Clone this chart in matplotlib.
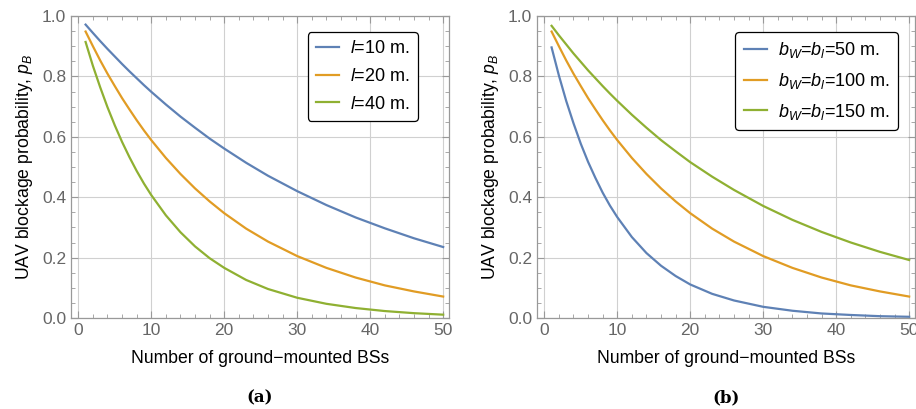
import matplotlib.pyplot as plt
from matplotlib.ticker import MultipleLocator

plt.rcParams['font.family'] = ['Liberation Sans', 'DejaVu Sans']
plt.rcParams['mathtext.fontset'] = 'custom'
plt.rcParams['mathtext.it'] = 'Liberation Sans:italic'
plt.rcParams['mathtext.rm'] = 'Liberation Sans'

# number of ground-mounted BSs (sample points)
n = [1, 2, 3, 4, 5, 6, 7, 8, 9, 10, 12, 14, 16, 18, 20, 23, 26, 30, 34, 38, 42, 46, 50]

# panel (a): street length l
pa_l10 = [0.9715, 0.944, 0.917, 0.891, 0.866, 0.841, 0.817, 0.794, 0.771, 0.749,
          0.707, 0.667, 0.630, 0.594, 0.561, 0.514, 0.471, 0.420, 0.374, 0.333,
          0.297, 0.264, 0.235]
pa_l20 = [0.9485, 0.900, 0.853, 0.809, 0.768, 0.728, 0.691, 0.655, 0.621, 0.589,
          0.530, 0.477, 0.429, 0.386, 0.347, 0.296, 0.253, 0.205, 0.166, 0.134,
          0.108, 0.088, 0.071]
pa_l40 = [0.914, 0.835, 0.764, 0.698, 0.638, 0.583, 0.533, 0.487, 0.445, 0.407,
          0.340, 0.284, 0.237, 0.198, 0.166, 0.126, 0.096, 0.067, 0.047, 0.033,
          0.023, 0.016, 0.011]

# panel (b): building size b_W = b_l
pb_50 = [0.896, 0.803, 0.719, 0.645, 0.577, 0.517, 0.464, 0.415, 0.372, 0.334,
         0.268, 0.215, 0.173, 0.139, 0.111, 0.080, 0.058, 0.037, 0.024, 0.015,
         0.010, 0.006, 0.004]
pb_100 = pa_l20
pb_150 = [0.9675, 0.936, 0.906, 0.876, 0.848, 0.820, 0.794, 0.768, 0.743, 0.719,
          0.673, 0.630, 0.589, 0.552, 0.516, 0.468, 0.424, 0.371, 0.325, 0.285,
          0.250, 0.219, 0.192]

labels_a = [r'$l$=10 m.', r'$l$=20 m.', r'$l$=40 m.']
labels_b = [r'$b_W$=$b_l$=50 m.', r'$b_W$=$b_l$=100 m.', r'$b_W$=$b_l$=150 m.']
colors = ['#5E81B5', '#E19C24', '#8FB032']

fig = plt.figure(figsize=(9.16, 4.09), dpi=100)
W, H = 916, 409
ax_a = fig.add_axes([71 / W, 1 - 318 / H, 378 / W, 302 / H])
ax_b = fig.add_axes([537 / W, 1 - 318 / H, 378 / W, 302 / H])

frame_col = '#999999'
panels = [(ax_a, [pa_l10, pa_l20, pa_l40], labels_a, '(a)', (0.918, 0.947)),
          (ax_b, [pb_50, pb_100, pb_150], labels_b, '(b)', (0.955, 0.947))]
for ax, series, labels, cap, anchor in panels:
    for ys, lab, c in zip(series, labels, colors):
        ax.plot(n, ys, color=c, lw=1.6, label=lab)
    ax.set_xlim(-1, 50.8)
    ax.set_ylim(0, 1.0)
    ax.xaxis.set_major_locator(MultipleLocator(10))
    ax.xaxis.set_minor_locator(MultipleLocator(2))
    ax.yaxis.set_major_locator(MultipleLocator(0.2))
    ax.yaxis.set_minor_locator(MultipleLocator(0.05))
    ax.yaxis.set_major_formatter(plt.FuncFormatter(lambda v, p: f'{v:.1f}'))
    ax.grid(True, which='major', color='#d0d0d0', lw=0.8)
    ax.tick_params(which='both', direction='in', top=True, right=True,
                   color=frame_col, labelcolor='#666666', labelsize=12.5)
    ax.tick_params(which='major', length=5, width=0.8)
    ax.tick_params(which='minor', length=3, width=0.6)
    for s in ax.spines.values():
        s.set_color(frame_col)
        s.set_linewidth(0.9)
    ax.set_xlabel('Number of ground\u2212mounted BSs', fontsize=12.7, labelpad=9)
    ax.set_ylabel(r'UAV blockage probability, $p_B$', fontsize=12.7, labelpad=5)
    leg = ax.legend(loc='upper right', fontsize=13, frameon=True, fancybox=True,
                    handlelength=1.3, handletextpad=0.6, labelspacing=0.6,
                    borderpad=0.45, borderaxespad=0, bbox_to_anchor=anchor)
    leg.get_frame().set_edgecolor('black')
    leg.get_frame().set_linewidth(0.9)
    leg.get_frame().set_alpha(1)
    ax.text(0.5, -0.235, cap, transform=ax.transAxes, ha='center', va='top',
            fontsize=12, fontweight='bold', family='DejaVu Serif')

fig.savefig('out.png', dpi=100)
